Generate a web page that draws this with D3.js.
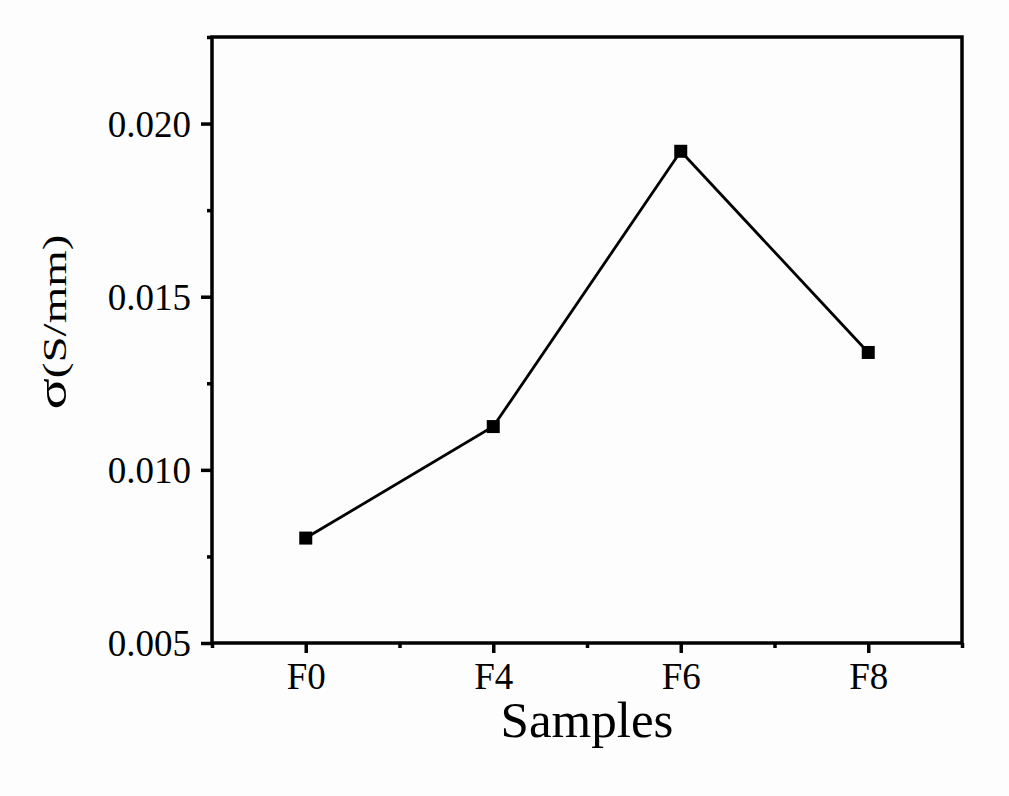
<!DOCTYPE html>
<html>
<head>
<meta charset="utf-8">
<script src="https://cdn.jsdelivr.net/npm/d3@7"></script>
<style>
  body { margin: 0; background: #fdfdfd; }
  svg { display: block; }
  text { font-family: "Liberation Serif", "Times New Roman", serif; fill: #000; }
</style>
</head>
<body>
<div class="chart"></div>
<script>
// data
var samples = ["F0", "F4", "F6", "F8"];
var sigma = [0.00803, 0.01125, 0.0192, 0.01339];
var yTicks = [0.005, 0.010, 0.015, 0.020];
var yMinorTicks = [0.0075, 0.0125, 0.0175, 0.0225];

var svgWidth = 1009;
var svgHeight = 796;

var margin = { top: 37, right: 47, bottom: 153, left: 212 };
var width = svgWidth - margin.left - margin.right;
var height = svgHeight - margin.top - margin.bottom;

var svg = d3.select(".chart")
  .append("svg")
  .attr("width", svgWidth)
  .attr("height", svgHeight);

var chartGroup = svg.append("g")
  .attr("transform", `translate(${margin.left}, ${margin.top})`);

// scales: categories sit on integer positions, half a step of padding each side
var xScale = d3.scaleLinear()
  .domain([-0.5, samples.length - 0.5])
  .range([0, width]);

var yScale = d3.scaleLinear()
  .domain([0.005, 0.0225])
  .range([height, 0]);

var axisWidth = 3.5;

// minor ticks first so the main axes draw over them
var xMinor = d3.axisBottom(xScale)
  .tickValues(d3.range(-0.5, samples.length, 1))
  .tickSize(5)
  .tickFormat("");
chartGroup.append("g")
  .attr("transform", `translate(0, ${height})`)
  .call(xMinor)
  .call(g => g.select(".domain").remove())
  .call(g => g.selectAll("line").attr("stroke-width", axisWidth));

var yMinor = d3.axisLeft(yScale)
  .tickValues(yMinorTicks)
  .tickSize(5)
  .tickFormat("");
chartGroup.append("g")
  .call(yMinor)
  .call(g => g.select(".domain").remove())
  .call(g => g.selectAll("line").attr("stroke-width", axisWidth));

// major axes
var bottomAxis = d3.axisBottom(xScale)
  .tickValues(d3.range(samples.length))
  .tickFormat(i => samples[i])
  .tickSize(10)
  .tickPadding(10)
  .tickSizeOuter(0);
chartGroup.append("g")
  .attr("transform", `translate(0, ${height})`)
  .call(bottomAxis)
  .call(g => g.select(".domain").remove())
  .call(g => g.selectAll("line").attr("stroke-width", axisWidth))
  .call(g => g.selectAll("text")
    .attr("font-size", "37px")
    .attr("font-family", "Liberation Serif")
    .attr("dy", "0.71em"));

var leftAxis = d3.axisLeft(yScale)
  .tickValues(yTicks)
  .tickFormat(d3.format(".3f"))
  .tickSize(11)
  .tickPadding(10)
  .tickSizeOuter(0);
chartGroup.append("g")
  .call(leftAxis)
  .call(g => g.select(".domain").remove())
  .call(g => g.selectAll("line").attr("stroke-width", axisWidth))
  .call(g => g.selectAll("text")
    .attr("font-size", "37px")
    .attr("font-family", "Liberation Serif")
    .attr("dy", "0.34em"));

// frame
chartGroup.append("rect")
  .attr("x", 0)
  .attr("y", 0)
  .attr("width", width)
  .attr("height", height)
  .attr("fill", "none")
  .attr("stroke", "#000")
  .attr("stroke-width", axisWidth);

// line + square markers
var line = d3.line()
  .x((d, i) => xScale(i))
  .y(d => yScale(d));

chartGroup.append("path")
  .datum(sigma)
  .attr("d", line)
  .attr("fill", "none")
  .attr("stroke", "#000")
  .attr("stroke-width", 2.8);

var markerSize = 13;
chartGroup.selectAll(".marker")
  .data(sigma)
  .enter()
  .append("rect")
  .attr("class", "marker")
  .attr("x", (d, i) => xScale(i) - markerSize / 2)
  .attr("y", d => yScale(d) - markerSize / 2)
  .attr("width", markerSize)
  .attr("height", markerSize)
  .attr("fill", "#000");

// axis titles
chartGroup.append("text")
  .attr("x", width / 2)
  .attr("y", height + 94)
  .attr("text-anchor", "middle")
  .attr("font-size", "51px")
  .text("Samples");

var yTitle = chartGroup.append("text")
  .attr("transform", `translate(${66 - margin.left}, ${322 - margin.top}) rotate(-90)`)
  .attr("text-anchor", "middle")
  .attr("textLength", 175)
  .attr("lengthAdjust", "spacingAndGlyphs")
  .attr("font-size", "34px");
yTitle.append("tspan").attr("font-size", "42px").text("σ");
yTitle.append("tspan").text("(S/mm)");
</script>
</body>
</html>
